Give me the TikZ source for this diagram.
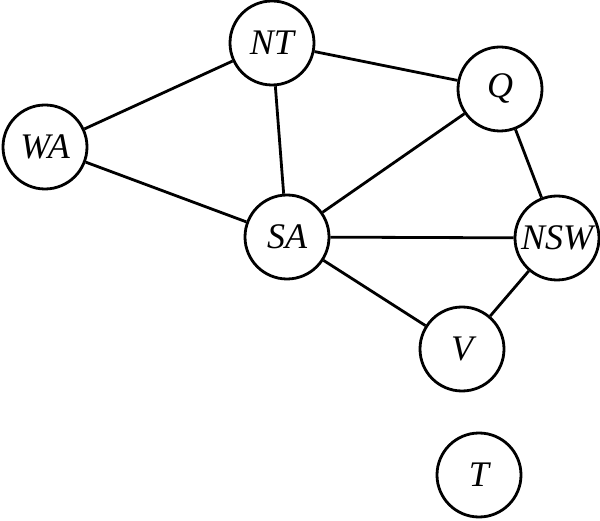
\documentclass[tikz,border=0pt]{standalone}
\usepackage{fontspec}
\setmainfont{Liberation Serif}
\begin{document}
\begin{tikzpicture}[x=1pt,y=-1pt,
  st/.style={circle,draw,line width=2.8pt,minimum size=84pt,inner sep=0pt,font=\fontsize{36}{38}\selectfont\itshape},
  ed/.style={line width=2.8pt}]
\useasboundingbox (0,0) rectangle (600,521);
\node[st] (WA) at (45,147) {WA};
\node[st] (NT) at (272,43) {NT};
\node[st] (Q) at (500,89) {Q};
\node[st] (SA) at (287,237) {SA};
\node[st] (NSW) at (557,238) {NSW};
\node[st] (V) at (462,349) {V};
\node[st] (T) at (479,475) {T};
\draw[ed] (WA) -- (NT);
\draw[ed] (WA) -- (SA);
\draw[ed] (NT) -- (SA);
\draw[ed] (NT) -- (Q);
\draw[ed] (Q) -- (SA);
\draw[ed] (Q) -- (NSW);
\draw[ed] (SA) -- (NSW);
\draw[ed] (SA) -- (V);
\draw[ed] (NSW) -- (V);
\end{tikzpicture}
\end{document}
